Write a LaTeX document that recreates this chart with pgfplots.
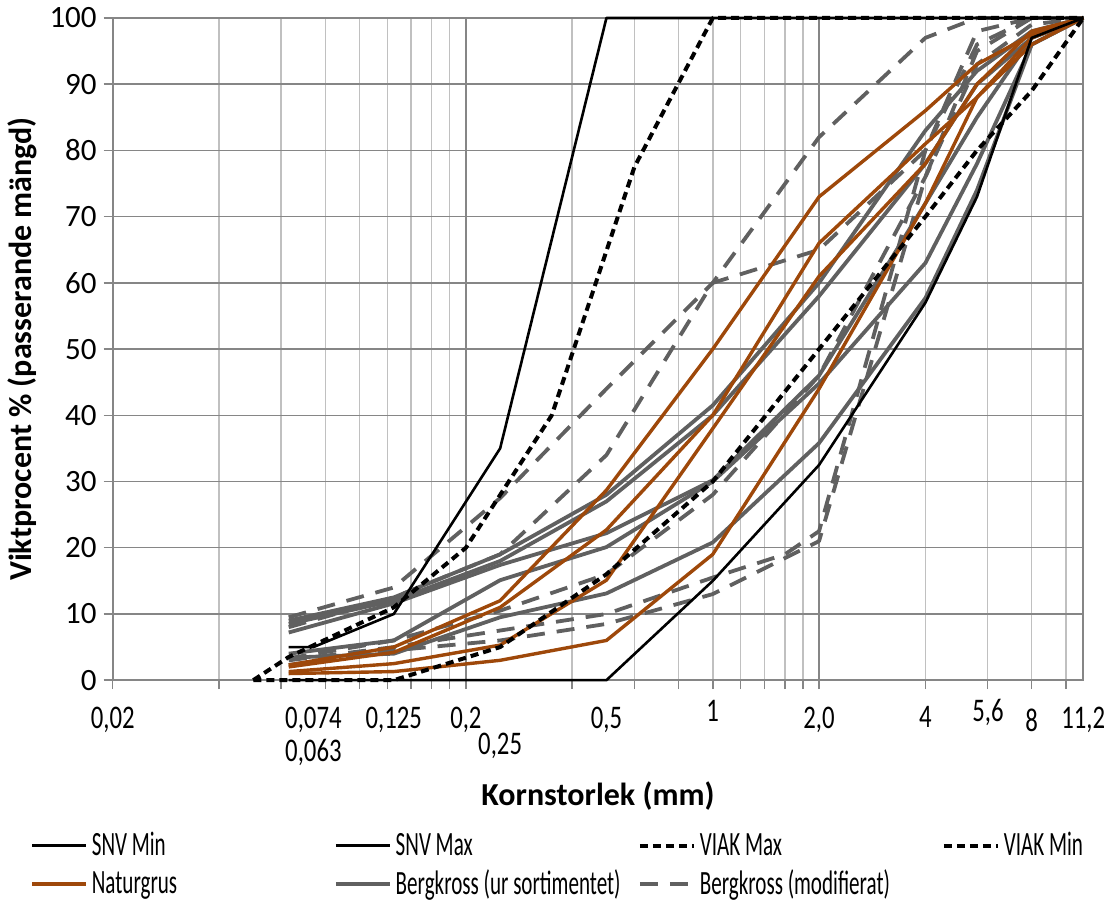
\documentclass[border=0pt]{standalone}
\usepackage{graphicx}
\usepackage{pgfplots}
\pgfplotsset{compat=1.18}
\usepackage{fontspec}
\setmainfont{Carlito}
\definecolor{gridmaj}{RGB}{134,134,134}
\definecolor{gridmin}{RGB}{192,192,192}
\definecolor{brn}{RGB}{158,72,10}
\definecolor{bgray}{RGB}{96,96,96}
\newcommand{\xtl}[1]{\scalebox{0.75}[1]{\fontsize{16.5}{16.5}\selectfont #1}}
\newcommand{\lgd}[2][119pt]{\makebox[#1][l]{\scalebox{0.62}[1]{\fontsize{17}{17}\selectfont #2}}}
\tikzset{
  snv/.style={black, line width=1.3pt, line join=round},
  viak/.style={black, line width=2pt, dash pattern=on 4pt off 2.5pt, line join=round},
  nat/.style={brn, line width=1.7pt, line join=round},
  berg/.style={bgray, line width=1.9pt, line join=round},
  bergm/.style={bgray, line width=1.9pt, dash pattern=on 9pt off 6pt, line join=round},
  xl/.style={inner sep=0pt},
}
\begin{document}
\begin{tikzpicture}
\begin{axis}[
  at={(0,0)}, anchor=south west,
  scale only axis, width=485.15pt, height=331pt,
  xmode=log, log basis x=10,
  xmin=0.02, xmax=11.2, ymin=0, ymax=100,
  xtick={0.02,0.2,2},
  xticklabels={,,},
  minor xtick={0.04,0.06,0.08,0.1,0.12,0.14,0.16,0.18,0.4,0.6,0.8,1,1.2,1.4,1.6,1.8,4,6,8,10},
  ytick={0,10,...,100},
  tick pos=left, tick align=outside,
  major tick length=4.5pt, minor tick length=4.5pt,
  every tick/.style={gridmaj, line width=0.75pt},
  xmajorgrids, xminorgrids, ymajorgrids,
  major grid style={draw=gridmaj, line width=0.75pt},
  minor grid style={draw=gridmin, line width=0.75pt},
  axis line style={draw=gridmaj, line width=0.9pt},
  yticklabel style={font=\fontsize{15.5}{15.5}\selectfont},
  /pgf/number format/assume math mode=true,
  clip=false,
  legend columns=4,
  legend cell align=left,
  legend image code/.code={\draw[#1] (0pt,0pt) -- (27pt,0pt);},
  legend style={at={(-0.0852,-0.2235)}, anchor=north west, draw=none, fill=none,
    inner sep=0pt, row sep=1.5pt, /tikz/every even column/.append style={column sep=0pt}},
]
\addlegendimage{snv}\addlegendentry{\lgd{SNV Min}}
\addlegendimage{snv}\addlegendentry{\lgd{SNV Max}}
\addlegendimage{viak}\addlegendentry{\lgd{VIAK Max}}
\addlegendimage{viak}\addlegendentry{\lgd[40pt]{VIAK Min}}
\addlegendimage{nat}\addlegendentry{\lgd{Naturgrus}}
\addlegendimage{berg}\addlegendentry{\lgd{Bergkross (ur sortimentet)}}
\addlegendimage{bergm}\addlegendentry{\lgd{Bergkross (modifierat)}}

% Bergkross (modifierat)
\addplot[bergm, forget plot] coordinates {(0.063,9.5)(0.125,14)(0.25,27.5)(0.5,44)(1,60)(2,82)(4,97)(5.6,100)(8,100)(11.2,100)};
\addplot[bergm, forget plot] coordinates {(0.063,8)(0.125,12.5)(0.25,19)(0.5,34)(1,60)(2,65)(4,80)(5.6,96)(8,100)(11.2,100)};
\addplot[bergm, forget plot] coordinates {(0.063,3.3)(0.125,6)(0.25,10.5)(0.5,16)(1,28)(2,46)(4,76)(5.6,93)(8,99)(11.2,100)};
\addplot[bergm, forget plot] coordinates {(0.063,2.3)(0.125,4.5)(0.25,6)(0.5,8.5)(1,13)(2,21)(4,76)(5.6,95)(8,100)(11.2,100)};
\addplot[bergm, forget plot] coordinates {(0.063,3)(0.125,5)(0.25,7.5)(0.5,10)(1,15.5)(1.6,19)(2,22.5)(4,80)(5.6,98)(8,100)(11.2,100)};
% Bergkross (ur sortimentet)
\addplot[berg, forget plot] coordinates {(0.063,9)(0.125,12.5)(0.25,19)(0.5,28)(1,41.5)(2,60)(4,83)(5.6,92)(8,98)(11.2,100)};
\addplot[berg, forget plot] coordinates {(0.063,8.5)(0.125,12)(0.25,18)(0.5,27)(1,40)(2,58)(4,78)(5.6,90)(8,97)(11.2,100)};
\addplot[berg, forget plot] coordinates {(0.063,7.2)(0.125,11.6)(0.25,17.4)(0.5,22.2)(1,30.2)(2,46)(4,72)(5.6,85)(8,97)(11.2,100)};
\addplot[berg, forget plot] coordinates {(0.063,4)(0.125,6)(0.25,15.1)(0.5,20.1)(1,30)(2,44.8)(4,63)(5.6,78)(8,96)(11.2,100)};
\addplot[berg, forget plot] coordinates {(0.063,3.4)(0.125,4)(0.25,9.5)(0.5,13.1)(1,20.8)(2,35.8)(4,57.7)(5.6,74)(8,96)(11.2,100)};
% Naturgrus
\addplot[nat, forget plot] coordinates {(0.063,2.3)(0.125,5)(0.25,12)(0.5,28.7)(1,50)(2,73)(4,86)(5.6,93)(8,97.5)(11.2,100)};
\addplot[nat, forget plot] coordinates {(0.063,2)(0.125,4.2)(0.25,11)(0.5,22.7)(1,40)(2,66)(4,81)(5.6,88)(8,96)(11.2,100)};
\addplot[nat, forget plot] coordinates {(0.063,1.3)(0.125,2.5)(0.25,5.3)(0.5,15.1)(1,38)(2,61)(4,78)(5.6,90)(8,98)(11.2,100)};
\addplot[nat, forget plot] coordinates {(0.063,1)(0.125,1.3)(0.25,3)(0.5,6)(1,19)(2,44)(4,72)(5.6,88)(8,97)(11.2,100)};
% SNV
\addplot[snv, forget plot] coordinates {(0.063,5)(0.074,5)(0.125,10)(0.25,35)(0.5,100)(11.2,100)};
\addplot[snv, forget plot] coordinates {(0.063,0)(0.5,0)(1,15)(2,32.5)(4,57)(5.6,73)(8,97)(11.2,100)};
% VIAK
\addplot[viak, forget plot] coordinates {(0.05,0)(0.063,3.5)(0.125,11)(0.2,20)(0.35,40)(0.6,77.5)(1,100)(11.2,100)};
\addplot[viak, forget plot] coordinates {(0.05,0)(0.125,0)(0.25,5)(0.5,16)(1,30)(2,50)(4,70)(5.6,80)(8,89)(11.2,100)};

% x tick labels (text boxes)
\node[xl] at (axis cs:0.02,0) [yshift=-20pt] {\xtl{0,02}};
\node[xl] at (axis cs:0.074,0) [yshift=-20pt] {\xtl{0,074}};
\node[xl] at (axis cs:0.074,0) [yshift=-36pt] {\xtl{0,063}};
\node[xl] at (axis cs:0.125,0) [yshift=-20pt] {\xtl{0,125}};
\node[xl] at (axis cs:0.2,0) [yshift=-20pt] {\xtl{0,2}};
\node[xl] at (axis cs:0.25,0) [yshift=-33pt] {\xtl{0,25}};
\node[xl] at (axis cs:0.5,0) [yshift=-20pt] {\xtl{0,5}};
\node[xl] at (axis cs:1,0) [yshift=-15.5pt] {\xtl{1}};
\node[xl] at (axis cs:2,0) [yshift=-20pt] {\xtl{2,0}};
\node[xl] at (axis cs:4,0) [yshift=-18.5pt] {\xtl{4}};
\node[xl] at (axis cs:5.6,0) [yshift=-16pt, xshift=5.5pt] {\xtl{5,6}};
\node[xl] at (axis cs:8,0) [yshift=-20pt] {\xtl{8}};
\node[xl] at (axis cs:11.2,0) [yshift=-20pt] {\xtl{11,2}};
\node at (axis description cs:0.5,-0.175) {\fontsize{16}{16}\selectfont\bfseries Kornstorlek (mm)};
\node[rotate=90] at (axis description cs:-0.0935,0.5) {\fontsize{16}{16}\selectfont\bfseries Viktprocent \% (passerande mängd)};
\end{axis}
\path (-56.35pt,-108pt) rectangle (502.5pt,340pt);
\end{tikzpicture}
\end{document}
